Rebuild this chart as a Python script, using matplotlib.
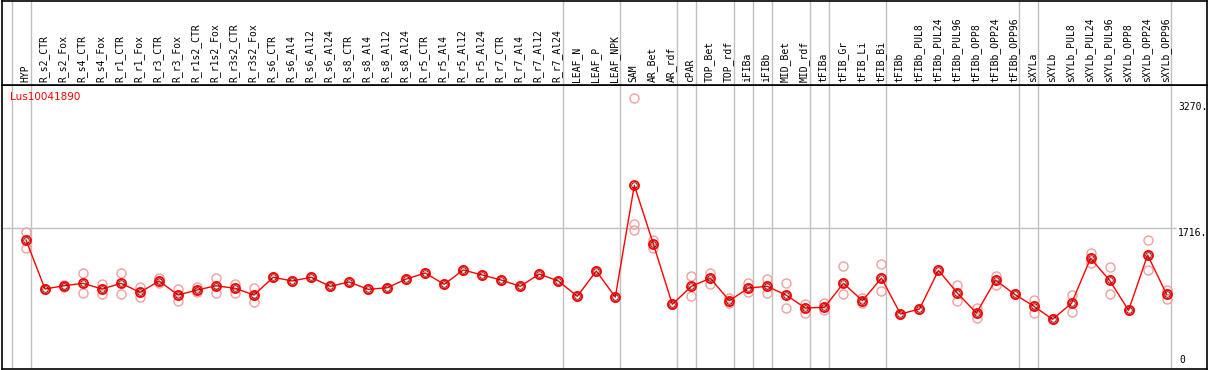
import numpy as np
import matplotlib
matplotlib.use("Agg")
import matplotlib.pyplot as plt

# sample names (columns)
samples = [
    "HYP", "R_s2_CTR", "R_s2_Fox", "R_s4_CTR", "R_s4_Fox", "R_r1_CTR", "R_r1_Fox",
    "R_r3_CTR", "R_r3_Fox", "R_r1s2_CTR", "R_r1s2_Fox", "R_r3s2_CTR", "R_r3s2_Fox",
    "R_s6_CTR", "R_s6_Al4", "R_s6_Al12", "R_s6_Al24", "R_s8_CTR", "R_s8_Al4",
    "R_s8_Al12", "R_s8_Al24", "R_r5_CTR", "R_r5_Al4", "R_r5_Al12", "R_r5_Al24",
    "R_r7_CTR", "R_r7_Al4", "R_r7_Al12", "R_r7_Al24", "LEAF_N", "LEAF_P", "LEAF_NPK",
    "SAM", "AR_Bet", "AR_rdf", "cPAR", "TOP_Bet", "TOP_rdf", "iFIBa", "iFIBb",
    "MID_Bet", "MID_rdf", "tFIBa", "tFIB_Gr", "tFIB_Li", "tFIB_Bi", "tFIBb",
    "tFIBb_PUL8", "tFIBb_PUL24", "tFIBb_PUL96", "tFIBb_OPP8", "tFIBb_OPP24",
    "tFIBb_OPP96", "sXYLa", "sXYLb", "sXYLb_PUL8", "sXYLb_PUL24", "sXYLb_PUL96",
    "sXYLb_OPP8", "sXYLb_OPP24", "sXYLb_OPP96",
]

# mean expression per sample
means = [
    1577, 991, 1030, 1059, 991, 1059, 951, 1087, 919, 979, 1030, 999, 919,
    1131, 1087, 1131, 1023, 1075, 987, 1006, 1110, 1182, 1047, 1218, 1158,
    1098, 1023, 1170, 1087, 904, 1206, 895,
    2230, 1529, 808, 1023, 1119, 851, 1003, 1023, 916, 764, 772, 1059, 851,
    1122, 692, 752, 1214, 940, 704, 1098, 928, 788, 629, 820, 1358, 1095,
    736, 1397, 928,
]

# replicate values per sample
replicates = [
    [1669, 1577, 1485], [991, 991, 991], [1040, 1030, 1020], [1179, 1059, 940],
    [1051, 991, 928], [1179, 1059, 928], [1011, 951, 899], [1119, 1087, 1059],
    [991, 919, 851], [1011, 979, 951], [1119, 1030, 947], [1051, 999, 947],
    [999, 919, 839], [1131] * 3, [1087] * 3, [1131] * 3, [1023] * 3, [1075] * 3,
    [987] * 3, [1006] * 3, [1110] * 3, [1182] * 3, [1047] * 3, [1218] * 3,
    [1158] * 3, [1098] * 3, [1023] * 3, [1170] * 3, [1087] * 3, [904] * 3,
    [1206] * 3, [895] * 3,
    [3270, 1768, 1693], [1577, 1529, 1477], [808] * 3, [1146, 1023, 907],
    [1186, 1119, 1047], [880, 851, 820], [1059, 1003, 951], [1110, 1023, 940],
    [1063, 916, 760], [808, 764, 708], [820, 772, 740], [1266, 1059, 931],
    [880, 851, 820], [1290, 1122, 967], [692] * 3, [752] * 3, [1214] * 3,
    [1039, 940, 851], [760, 704, 648], [1150, 1098, 1039], [928] * 3,
    [859, 788, 700], [629] * 3, [919, 820, 720], [1418, 1358, 1298],
    [1250, 1095, 928], [736] * 3, [1573, 1397, 1218], [979, 928, 871],
]

# group separators (after these column indices)
separators = [-1, 0, 28, 31, 34, 35, 37, 38, 39, 41, 42, 45, 52, 53, 60]

gene = "Lus10041890"
y_ticks = [3270, 1716, 0]
y_tick_labels = ["3270.", "1716.", "0"]

W, H = 1209, 370
fig = plt.figure(figsize=(W / 100, H / 100), dpi=100)

x_lo, x_hi = -1.2625, 62.125
y_lo, y_hi = 35, 3429
header_px = 85

ax = fig.add_axes([2 / W, 1 / H, 1205 / W, (H - header_px - 1) / H])
hd = fig.add_axes([2 / W, (H - header_px) / H, 1205 / W, (header_px - 1) / H])

x = np.arange(len(samples))
grey = "#c0c0c0"

for a in (ax, hd):
    a.set_xlim(x_lo, x_hi)
    a.set_xticks([])
    a.set_yticks([])
    for s in a.spines.values():
        s.set_color("black")
        s.set_linewidth(1.2)
    for sp in separators:
        a.axvline(sp + 0.25, color=grey, lw=1, zorder=0)

ax.set_ylim(y_lo, y_hi)
hd.set_ylim(0, 1)

# horizontal guide line
ax.hlines(y_ticks[1], x_lo, 60.5, color=grey, lw=1, zorder=0)

# replicates
for i, reps in enumerate(replicates):
    ax.plot([x[i]] * len(reps), reps, "o", ms=6.5, mfc="none", mec="#f0a0a0",
            mew=1.0, zorder=2)

# mean line
ax.plot(x, means, "-", color="red", lw=1, zorder=3)
ax.plot(x, means, "o", ms=6.5, mfc="none", mec="red", mew=1.3, zorder=4)
ax.plot(x, means, "o", ms=4.0, mfc="none", mec="#600000", mew=0.6, zorder=5)

# header labels
for i, name in enumerate(samples):
    hd.text(x[i] - 0.05, 0.03, name, rotation=90, ha="center", va="bottom",
            fontsize=7, family="DejaVu Sans Mono", color="black")

ax.text(-0.85, 3280, gene, color="red", fontsize=7.5, ha="left", va="center",
        family="DejaVu Sans")

tx = 60.6
ax.text(tx, y_ticks[0] - 40, y_tick_labels[0], fontsize=7, family="DejaVu Sans Mono",
        ha="left", va="top")
ax.text(tx, y_ticks[1], y_tick_labels[1], fontsize=7, family="DejaVu Sans Mono",
        ha="left", va="top")
ax.text(tx + 0.05, y_lo + 50, y_tick_labels[2], fontsize=7, family="DejaVu Sans Mono",
        ha="left", va="bottom")

fig.savefig("out.png", dpi=100)
